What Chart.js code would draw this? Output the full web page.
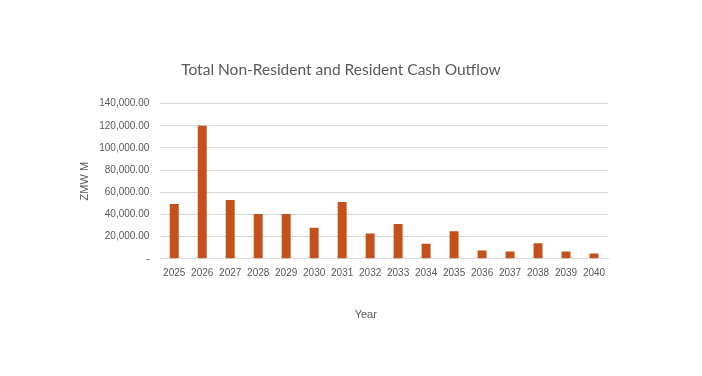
<!DOCTYPE html>
<html>
<head>
<meta charset="utf-8">
<script src="https://cdn.jsdelivr.net/npm/chart.js@4"></script>
<style>
  html, body { margin: 0; padding: 0; background: #fff; }
  #wrap { width: 702px; height: 376px; }
</style>
</head>
<body>
<div id="wrap"><canvas id="outflowChart"></canvas></div>
<script>
// years on the x axis
let years = ['2025', '2026', '2027', '2028', '2029', '2030', '2031', '2032',
             '2033', '2034', '2035', '2036', '2037', '2038', '2039', '2040'];
// total cash outflow, ZMW M
let outflow = [49500, 120000, 53000, 40500, 40500, 27900, 51300, 22800,
               31500, 13500, 24900, 7500, 6600, 14000, 6600, 4800];
let yTickMax = 140000;
let yTickStep = 20000;

let barColor = '#C4501B';
let textGrey = '#595959';

Chart.defaults.font.family = "'Liberation Sans', Arial, sans-serif";
Chart.defaults.color = textGrey;

// the axis title sits a bit left of the plot centre in the original
let yearTitle = 'Year' + '\u00A0'.repeat(12);

let ctx = document.getElementById('outflowChart').getContext('2d');
let outflowChart = new Chart(ctx, {
    type: 'bar',
    data: {
        labels: years,
        datasets: [{
            label: 'Cash Outflow',
            data: outflow,
            backgroundColor: barColor,
            borderWidth: 0,
            barPercentage: 0.32,
            categoryPercentage: 1
        }]
    },
    options: {
        responsive: true,
        maintainAspectRatio: false,
        animation: false,
        layout: {
            padding: { left: 74, right: 94, top: 61, bottom: 50 }
        },
        plugins: {
            legend: { display: false },
            tooltip: { enabled: false },
            title: {
                display: true,
                text: 'Total Non-Resident and Resident Cash Outflow',
                color: textGrey,
                font: { family: 'Lato', size: 15.5, weight: 'normal' },
                padding: { top: 0, bottom: 24 }
            }
        },
        scales: {
            x: {
                grid: { display: false, drawTicks: false },
                border: { color: '#D9D9D9' },
                ticks: { color: textGrey, font: { size: 10 }, maxRotation: 0, autoSkip: false, padding: 8 },
                title: {
                    display: true,
                    text: yearTitle,
                    color: textGrey,
                    font: { size: 11 },
                    padding: { top: 22 }
                }
            },
            y: {
                min: 0,
                max: yTickMax,
                grid: { color: '#D9D9D9', drawTicks: false },
                border: { display: false },
                ticks: {
                    stepSize: yTickStep,
                    color: textGrey,
                    font: { size: 10 },
                    padding: 11,
                    callback: function (v) {
                        if (v === 0) return '-';
                        return v.toLocaleString('en-US', { minimumFractionDigits: 2, maximumFractionDigits: 2 });
                    }
                },
                title: {
                    display: true,
                    text: 'ZMW M',
                    color: textGrey,
                    font: { size: 11 },
                    padding: { top: 4, bottom: -3 }
                }
            }
        }
    }
});
</script>
</body>
</html>
